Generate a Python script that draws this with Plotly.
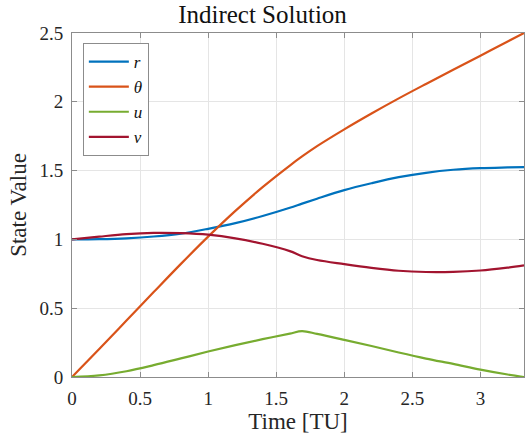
import plotly.graph_objects as go

t = [0, 0.2, 0.4, 0.6, 0.8, 1.0, 1.2, 1.4, 1.6, 1.69, 1.8, 2.0, 2.2, 2.4, 2.6, 2.8, 3.0, 3.2, 3.32]
r = [1.0, 1.002, 1.008, 1.021, 1.042, 1.077, 1.118, 1.17, 1.23, 1.26, 1.296, 1.358, 1.408, 1.452, 1.484, 1.506, 1.518, 1.523, 1.525]
theta = [0, 0.203, 0.41, 0.617, 0.822, 1.02, 1.207, 1.38, 1.537, 1.603, 1.678, 1.80, 1.915, 2.025, 2.13, 2.233, 2.335, 2.438, 2.50]
u = [0, 0.012, 0.042, 0.086, 0.135, 0.185, 0.232, 0.275, 0.315, 0.333, 0.313, 0.27, 0.225, 0.178, 0.134, 0.095, 0.054, 0.018, 0.0]
v = [1.0, 1.02, 1.038, 1.047, 1.045, 1.034, 1.008, 0.968, 0.915, 0.878, 0.85, 0.82, 0.793, 0.772, 0.763, 0.764, 0.774, 0.795, 0.811]

names = ["<i>r</i>", "<i>θ</i>", "<i>u</i>", "<i>v</i>"]
colors = ["#0072BD", "#D95319", "#77AC30", "#A2142F"]
series = [r, theta, u, v]

x_ticks = [0, 0.5, 1, 1.5, 2, 2.5, 3]
x_ticklabels = ["0", "0.5", "1", "1.5", "2", "2.5", "3"]
y_ticks = [0, 0.5, 1, 1.5, 2, 2.5]
y_ticklabels = ["0", "0.5", "1", "1.5", "2", "2.5"]

FONT = "Liberation Serif, Times New Roman, serif"

fig = go.Figure()
for name, col, s in zip(names, colors, series):
    fig.add_trace(go.Scatter(x=t, y=s, mode="lines", name=name,
                             line=dict(color=col, width=2.2, shape="spline", smoothing=1.0)))

axis_common = dict(showline=True, linecolor="#8c8c8c", linewidth=1, mirror="allticks",
                   ticks="inside", ticklen=5, tickcolor="#8c8c8c",
                   showgrid=True, gridcolor="#e5e5e5", gridwidth=1, zeroline=False,
                   automargin=False,
                   tickfont=dict(family=FONT, size=19, color="#262626"))

fig.update_layout(
    width=525, height=441,
    margin=dict(l=72, r=1, t=33, b=64),
    paper_bgcolor="white", plot_bgcolor="white",
    title=dict(text="Indirect Solution", x=0.5, xanchor="center",
               yref="container", y=0.967, yanchor="middle",
               font=dict(family=FONT, size=25, color="#111111")),
    xaxis=dict(range=[0, 3.32], tickvals=x_ticks, ticktext=x_ticklabels,
               title=dict(text="Time [TU]", font=dict(family=FONT, size=23, color="#262626"), standoff=5),
               ticklabelstandoff=4, **axis_common),
    yaxis=dict(range=[0, 2.5], tickvals=y_ticks, ticktext=y_ticklabels,
               title=dict(text="State Value", font=dict(family=FONT, size=23, color="#262626"), standoff=6),
               ticklabelstandoff=4, **axis_common),
    legend=dict(x=0.024, y=0.971, xanchor="left", yanchor="top",
                bgcolor="white", bordercolor="#8c8c8c", borderwidth=1,
                font=dict(family=FONT, size=17, color="#111111"),
                tracegroupgap=0, itemwidth=40),
    showlegend=True,
)

fig.write_html("out.html", config={"displayModeBar": False},
               post_script="document.body.style.margin='0';document.body.style.padding='0';")
